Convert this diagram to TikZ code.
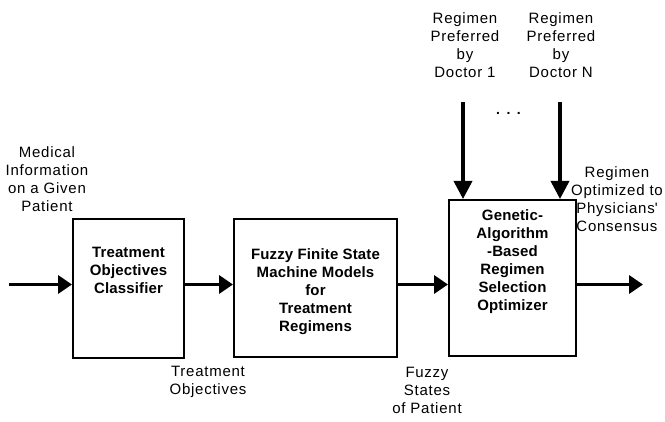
\documentclass[tikz,border=0pt]{standalone}
\usepackage{fontspec}
\setmainfont{Liberation Sans}[LetterSpace=5, BoldFeatures={LetterSpace=1}]
\usetikzlibrary{arrows.meta}
\begin{document}
\begin{tikzpicture}[x=1pt,y=-1pt,
  box/.style={draw=black, line width=2pt, fill=white, inner sep=0pt},
  lbl/.style={align=center, inner sep=0pt, anchor=north, font=\fontsize{15}{18}\selectfont},
  boxtext/.style={align=center, inner sep=0pt, anchor=north, font=\fontsize{15}{18}\selectfont\bfseries},
  flow/.style={line width=3.5pt, -{Triangle[length=14pt,width=18pt]}},
  vflow/.style={line width=3.5pt, -{Triangle[length=18pt,width=18pt]}}]
\path[use as bounding box, fill=white] (0,0) rectangle (665,422);

% boxes
\node[box, minimum width=111pt, minimum height=139pt] (b1) at (128.5,288.5) {};
\node[box, minimum width=163pt, minimum height=138pt] (b2) at (315.5,288) {};
\node[box, minimum width=127pt, minimum height=156pt] (b3) at (512.5,278) {};

\node[boxtext] (t1) at (128.5,247) {Treatment\\Objectives\\Classifier};
\node[boxtext] (t2) at (315.5,248) {Fuzzy Finite State\\Machine Models\\for\\Treatment\\Regimens};
\node[boxtext] (t3) at (512.5,209) {Genetic-\\Algorithm\\-Based\\Regimen\\Selection\\Optimizer};

% labels
\node[lbl] (med) at (47,146) {Medical\\Information\\on a Given\\Patient};
\node[lbl] (doc1) at (465,12) {Regimen\\Preferred\\by\\Doctor 1};
\node[lbl] (docn) at (561,12) {Regimen\\Preferred\\by\\Doctor N};
\node[lbl] (cons) at (617,166) {Regimen\\Optimized to\\Physicians\textquotesingle\\Consensus};
\node[lbl] (obj) at (208,366) {Treatment\\Objectives};
\node[lbl] (fz) at (427,367) {Fuzzy\\States\\of Patient};
\node[anchor=base, inner sep=0pt, font=\fontsize{14}{18}\selectfont\bfseries] (dots) at (508.5,114.5) {.\hspace{6.5pt}.\hspace{6.5pt}.};

% connectors
\coordinate (start) at (9,284.5);
\coordinate (finish) at (643,284.5);
\coordinate (d1) at (463,102);
\coordinate (dn) at (560,102);
\draw[flow] (start) -- (b1.west |- start);
\draw[flow] (b1.east |- start) -- (b2.west |- start);
\draw[flow] (b2.east |- start) -- (b3.west |- start);
\draw[flow] (b3.east |- start) -- (finish);
\draw[vflow] (d1) -- (d1 |- b3.north);
\draw[vflow] (dn) -- (dn |- b3.north);
\end{tikzpicture}
\end{document}
